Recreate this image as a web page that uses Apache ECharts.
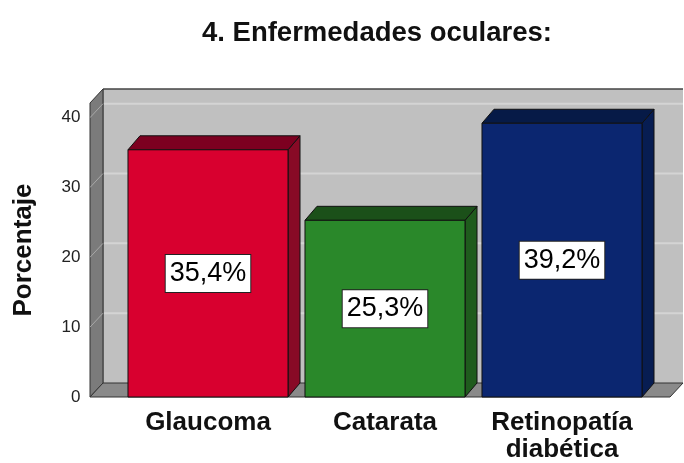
<!DOCTYPE html>
<html>
<head>
<meta charset="utf-8">
<script src="https://cdn.jsdelivr.net/npm/echarts@6/dist/echarts.min.js"></script>
<style>
  html, body { margin: 0; padding: 0; background: #fff; }
  #chart { width: 684px; height: 463px; }
</style>
</head>
<body>
<div id="chart"></div>
<script>
const categories = ['Glaucoma', 'Catarata', 'Retinopatía\ndiabética'];
const values = [35.4, 25.3, 39.2];
const yTicks = [0, 10, 20, 30, 40];
const barColors = [
  { front: '#d8002f', top: '#7c0020', side: '#880a26' },
  { front: '#2a882a', top: '#1b5019', side: '#1f5b1d' },
  { front: '#0b2670', top: '#061a47', side: '#071d52' }
];

const FONT = 'Liberation Sans, Arial, sans-serif';
// 3d depth offsets (px)
const BAR_DX = 12, BAR_DY = -14;
const WALL_DX = 13, WALL_DY = -14;
const WALL_PAD_L = 29.5, WALL_PAD_R = 19.5;

const fmt = v => v.toFixed(1).replace('.', ',') + '%';

// walls, floor and back gridlines
function renderWalls(params, api) {
  const cs = params.coordSys;
  const x0 = cs.x - WALL_PAD_L, x1 = cs.x + cs.width + WALL_PAD_R;
  const yb = cs.y + cs.height, yt = cs.y;
  const kids = [];
  kids.push({ type: 'rect', shape: { x: x0 + WALL_DX, y: yt + WALL_DY, width: x1 - x0, height: yb - yt },
    style: { fill: '#c0c0c0', stroke: null } });
  yTicks.forEach(t => {
    if (t === 0) return;
    const y = api.coord([0, t])[1];
    kids.push({ type: 'line', shape: { x1: x0 + WALL_DX, y1: y + WALL_DY, x2: x1 + WALL_DX, y2: y + WALL_DY },
      style: { stroke: '#d4d4d4', lineWidth: 2 } });
  });
  kids.push({ type: 'line', shape: { x1: x0 + WALL_DX, y1: yt + WALL_DY, x2: x1 + WALL_DX, y2: yt + WALL_DY },
    style: { stroke: '#444', lineWidth: 1.5 } });
  kids.push({ type: 'line', shape: { x1: x0 + WALL_DX, y1: yt + WALL_DY, x2: x0 + WALL_DX, y2: yb + WALL_DY },
    style: { stroke: '#555', lineWidth: 1 } });
  // left wall
  kids.push({ type: 'polygon', shape: { points: [[x0, yb], [x0, yt], [x0 + WALL_DX, yt + WALL_DY], [x0 + WALL_DX, yb + WALL_DY]] },
    style: { fill: '#7b7b7b', stroke: '#333', lineWidth: 1 } });
  yTicks.forEach(t => {
    if (t === 0) return;
    const y = api.coord([0, t])[1];
    kids.push({ type: 'line', shape: { x1: x0, y1: y, x2: x0 + WALL_DX, y2: y + WALL_DY },
      style: { stroke: '#a8a8a8', lineWidth: 1 } });
  });
  // floor
  kids.push({ type: 'polygon', shape: { points: [[x0, yb], [x1, yb], [x1 + WALL_DX, yb + WALL_DY], [x0 + WALL_DX, yb + WALL_DY]] },
    style: { fill: '#8a8a8a', stroke: '#333', lineWidth: 1 } });
  return { type: 'group', children: kids };
}

function renderBar(params, api) {
  const i = api.value(0), v = api.value(1);
  const top = api.coord([i, v]), base = api.coord([i, 0]);
  const bw = api.size([1, 0])[0] * 0.904;
  const l = top[0] - bw / 2, r = top[0] + bw / 2;
  const ty = top[1], by = base[1];
  const c = barColors[params.dataIndex];
  const edge = { stroke: '#111', lineWidth: 1 };
  return {
    type: 'group',
    children: [
      { type: 'polygon', shape: { points: [[r, ty], [r + BAR_DX, ty + BAR_DY], [r + BAR_DX, by + BAR_DY], [r, by]] },
        style: Object.assign({ fill: c.side }, edge) },
      { type: 'polygon', shape: { points: [[l, ty], [l + BAR_DX, ty + BAR_DY], [r + BAR_DX, ty + BAR_DY], [r, ty]] },
        style: Object.assign({ fill: c.top }, edge) },
      { type: 'rect', shape: { x: l, y: ty, width: bw, height: by - ty },
        style: Object.assign({ fill: c.front }, edge) },
      { type: 'text', x: top[0], y: (ty + by) / 2,
        style: { text: fmt(v), fill: '#000', font: '27px ' + FONT, align: 'center', verticalAlign: 'middle',
          backgroundColor: '#fff', borderColor: '#222', borderWidth: 1, padding: [6, 4, 4, 4] } }
    ]
  };
}

const chart = echarts.init(document.getElementById('chart'), null, { renderer: 'canvas' });
chart.setOption({
  animation: false,
  backgroundColor: '#fff',
  title: {
    text: '4. Enfermedades oculares:',
    left: 372, top: 14, textAlign: 'center',
    textStyle: { fontFamily: FONT, fontSize: 27.5, fontWeight: 'bold', color: '#111' }
  },
  grid: { left: 119.5, right: 33.5, top: 103, bottom: 61, containLabel: false },
  xAxis: {
    type: 'category',
    data: categories,
    axisLine: { show: false },
    axisTick: { show: false },
    axisLabel: { fontFamily: FONT, fontSize: 26, fontWeight: 'bold', color: '#111', margin: 12, lineHeight: 27, interval: 0 }
  },
  yAxis: {
    type: 'value',
    min: 0, max: 42.1, interval: 10,
    name: 'Porcentaje',
    nameLocation: 'middle',
    nameGap: 83,
    nameRotate: 90,
    nameTextStyle: { fontFamily: FONT, fontSize: 26, fontWeight: 'bold', color: '#111' },
    axisLine: { show: false },
    axisTick: { show: false },
    splitLine: { show: false },
    axisLabel: {
      fontFamily: FONT, fontSize: 17, color: '#222', margin: 39, showMaxLabel: false,
      padding: [7, 0, 0, 0],
      formatter: v => (yTicks.includes(v) ? String(v) : '')
    }
  },
  series: [
    { type: 'custom', z: 1, silent: true, renderItem: renderWalls, data: [[0, 0]], clip: false },
    { type: 'custom', z: 2, renderItem: renderBar, data: values.map((v, i) => [i, v]), clip: false }
  ]
});
</script>
</body>
</html>
